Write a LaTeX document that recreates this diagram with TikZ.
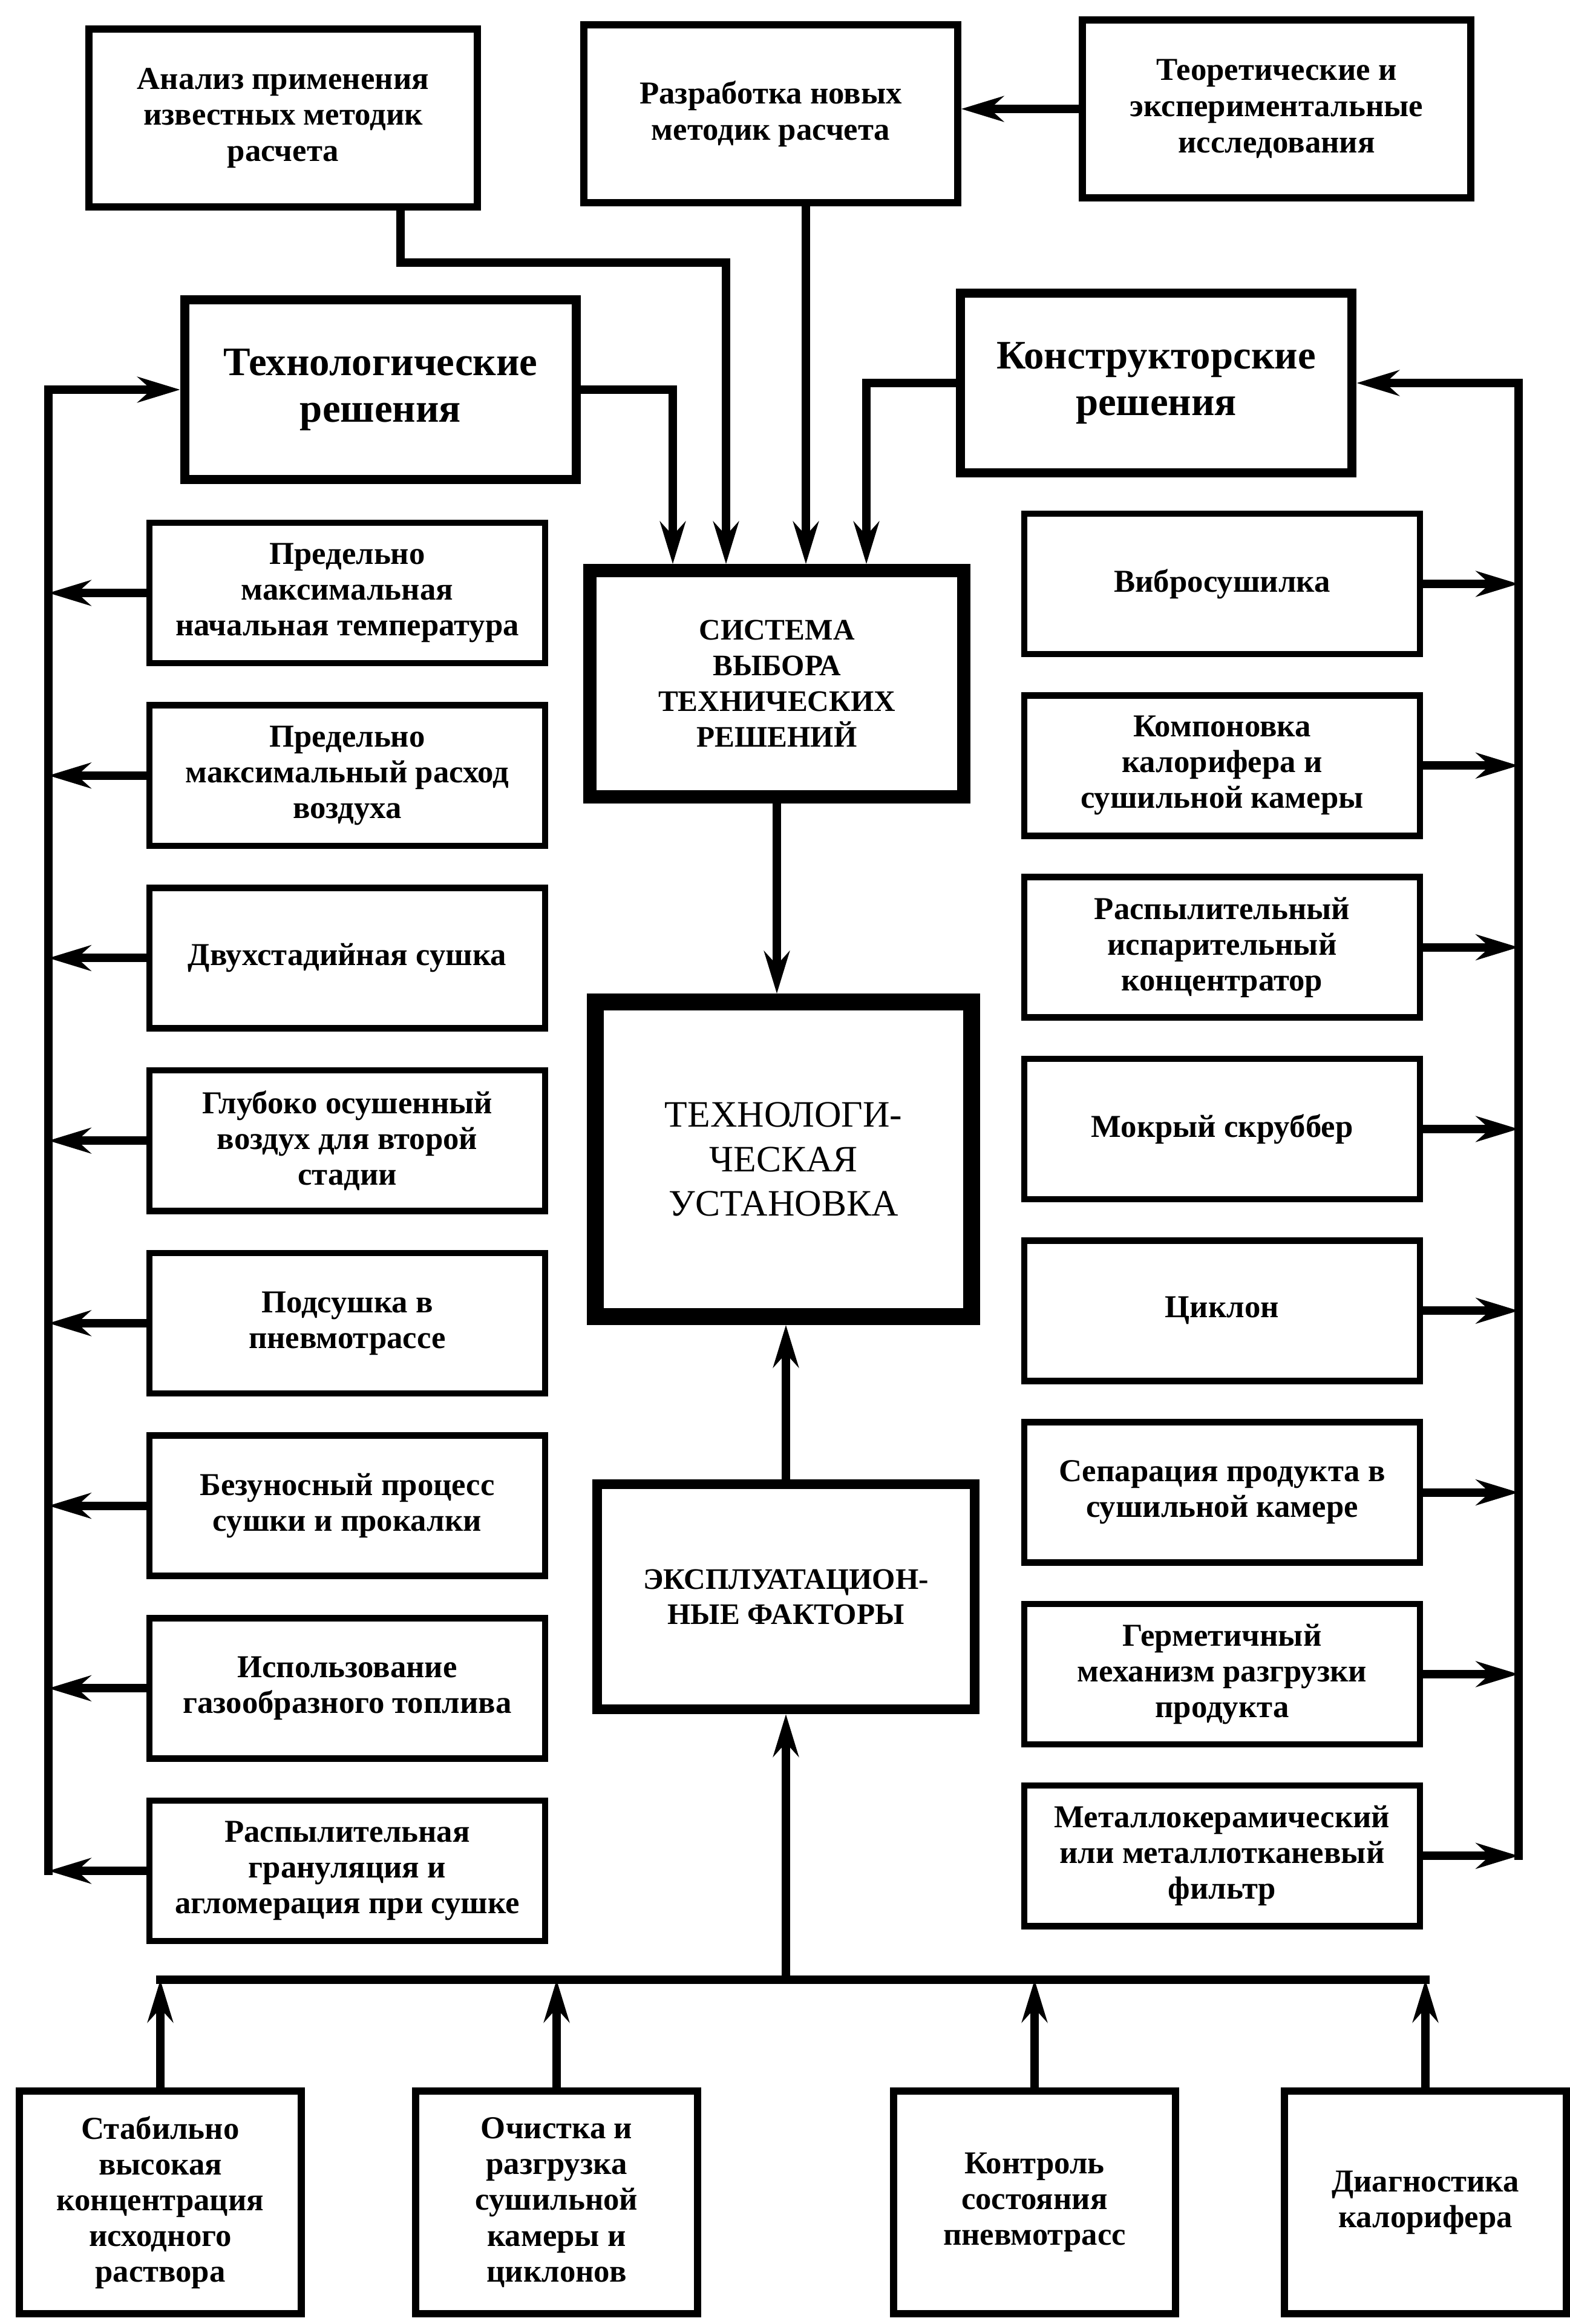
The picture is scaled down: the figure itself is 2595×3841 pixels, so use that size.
\documentclass[tikz,border=0pt]{standalone}
\usepackage{fontspec}
\setmainfont{Liberation Serif}
\usetikzlibrary{arrows.meta,positioning}
\tikzset{
  flowblock/.style={rectangle,draw,line width=3pt,minimum width=6.54cm,minimum height=2.32cm,
    inner sep=2pt,align=center,font=\bfseries\fontsize{15}{16.8}\selectfont},
  flowtop/.style={rectangle,draw,line width=3.4pt,minimum width=6.41cm,minimum height=2.93cm,
    align=center,font=\bfseries\fontsize{15}{17}\selectfont},
  flowhead/.style={rectangle,draw,line width=4.3pt,minimum width=6.47cm,minimum height=2.97cm,
    align=center,font=\bfseries\fontsize{19}{22}\selectfont},
  flowmain/.style={rectangle,draw,line width=6.3pt,minimum width=6.18cm,minimum height=3.73cm,
    align=center,font=\bfseries\fontsize{14}{16.8}\selectfont},
  flowplant/.style={rectangle,draw,line width=8pt,minimum width=6.22cm,minimum height=5.19cm,
    align=center,font=\fontsize{17.5}{21}\selectfont},
  flowfactor/.style={rectangle,draw,line width=4.5pt,minimum width=6.24cm,minimum height=3.72cm,
    align=center,font=\bfseries\fontsize{14}{16.5}\selectfont},
  flowfoot/.style={rectangle,draw,line width=3.4pt,minimum width=4.66cm,minimum height=3.68cm,
    align=center,font=\bfseries\fontsize{15}{16.8}\selectfont},
  flowline/.style={line width=4pt,line cap=rect},
  arrow/.style={flowline,-{Stealth[length=0.7cm,width=0.42cm]}}
}
\begin{document}
\begin{tikzpicture}[x=0.01cm,y=-0.01cm]
  \useasboundingbox (0,0) rectangle (2595,3841);
  \node[flowtop] (an) at (468,195) {Анализ применения\\известных методик\\расчета};
  \node[flowtop, minimum width=6.17cm] (rz) at (1274,188) {Разработка новых\\методик расчета};
  \node[flowtop] (tr) at (2110,180) {Теоретические и\\экспериментальные\\исследования};
  \node[flowhead] (tn) at (629,644) {Технологические\\решения};
  \node[flowhead] (kn) at (1911,633) {Конструкторские\\решения};
  \node[flowmain] (sv) at (1284,1130) {СИСТЕМА\\ВЫБОРА\\ТЕХНИЧЕСКИХ\\РЕШЕНИЙ};
  \node[flowplant] (tu) at (1295,1916) {ТЕХНОЛОГИ-\\ЧЕСКАЯ\\УСТАНОВКА};
  \node[flowfactor] (ef) at (1299,2639) {ЭКСПЛУАТАЦИОН-\\НЫЕ ФАКТОРЫ};

  \begin{scope}[node distance=0.59cm]
    \node[flowblock] (t1) at (574,980) {Предельно\\максимальная\\начальная температура};
    \node[flowblock, below=of t1] (t2) {Предельно\\максимальный расход\\воздуха};
    \node[flowblock, below=of t2] (t3) {Двухстадийная сушка};
    \node[flowblock, below=of t3] (t4) {Глубоко осушенный\\воздух для второй\\стадии};
    \node[flowblock, below=of t4] (t5) {Подсушка в\\пневмотрассе};
    \node[flowblock, below=of t5] (t6) {Безуносный процесс\\сушки и прокалки};
    \node[flowblock, below=of t6] (t7) {Использование\\газообразного топлива};
    \node[flowblock, below=of t7] (t8) {Распылительная\\грануляция и\\агломерация при сушке};
  \end{scope}

  \begin{scope}[node distance=0.576cm]
    \node[flowblock] (k1) at (2020,965) {Вибросушилка};
    \node[flowblock, below=of k1] (k2) {Компоновка\\калорифера и\\сушильной камеры};
    \node[flowblock, below=of k2] (k3) {Распылительный\\испарительный\\концентратор};
    \node[flowblock, below=of k3] (k4) {Мокрый скруббер};
    \node[flowblock, below=of k4] (k5) {Циклон};
    \node[flowblock, below=of k5] (k6) {Сепарация продукта в\\сушильной камере};
    \node[flowblock, below=of k6] (k7) {Герметичный\\механизм разгрузки\\продукта};
    \node[flowblock, below=of k7] (k8) {Металлокерамический\\или металлотканевый\\фильтр};
  \end{scope}

  \node[flowfoot] (f1) at (265,3640) {Стабильно\\высокая\\концентрация\\исходного\\раствора};
  \node[flowfoot] (f2) at (920,3640) {Очистка и\\разгрузка\\сушильной\\камеры и\\циклонов};
  \node[flowfoot] (f3) at (1710,3640) {Контроль\\состояния\\пневмотрасс};
  \node[flowfoot] (f4) at (2356,3640) {Диагностика\\калорифера};

  \coordinate (lbus) at (80,650);
  \coordinate (rbus) at (2510,616);
  \coordinate (bus) at (0,3272);

  \draw[arrow] (tr.west) -- (tr.west -| rz.east);
  \draw[arrow] ([xshift=1.94cm]an.south) |- (1200,434) -- (1200,0 |- sv.north);
  \draw[arrow] (rz.south -| 1332,0) -- (1332,0 |- sv.north);
  \draw[arrow] (tn.east) -| (1112,0 |- sv.north);
  \draw[arrow] (kn.west) -| (1432,0 |- sv.north);
  \draw[arrow] (sv.south) -- (sv.south |- tu.north);
  \draw[arrow] (ef.north) -- (ef.north |- tu.south);

  \draw[arrow] (t1.west) -- (t1.west -| lbus);
  \draw[arrow] (t2.west) -- (t2.west -| lbus);
  \draw[arrow] (t3.west) -- (t3.west -| lbus);
  \draw[arrow] (t4.west) -- (t4.west -| lbus);
  \draw[arrow] (t5.west) -- (t5.west -| lbus);
  \draw[arrow] (t6.west) -- (t6.west -| lbus);
  \draw[arrow] (t7.west) -- (t7.west -| lbus);
  \draw[arrow] (t8.west) -- (t8.west -| lbus);
  \draw[arrow] (t8.west -| lbus) |- (tn.west);

  \draw[arrow] (k1.east) -- (k1.east -| rbus);
  \draw[arrow] (k2.east) -- (k2.east -| rbus);
  \draw[arrow] (k3.east) -- (k3.east -| rbus);
  \draw[arrow] (k4.east) -- (k4.east -| rbus);
  \draw[arrow] (k5.east) -- (k5.east -| rbus);
  \draw[arrow] (k6.east) -- (k6.east -| rbus);
  \draw[arrow] (k7.east) -- (k7.east -| rbus);
  \draw[arrow] (k8.east) -- (k8.east -| rbus);
  \draw[arrow] (k8.east -| rbus) |- (kn.east);

  \draw[flowline] (f1.north |- bus) -- (f4.north |- bus);
  \draw[arrow] (bus -| ef.south) -- (ef.south);
  \draw[arrow] (f1.north) -- (f1.north |- bus);
  \draw[arrow] (f2.north) -- (f2.north |- bus);
  \draw[arrow] (f3.north) -- (f3.north |- bus);
  \draw[arrow] (f4.north) -- (f4.north |- bus);
\end{tikzpicture}
\end{document}
